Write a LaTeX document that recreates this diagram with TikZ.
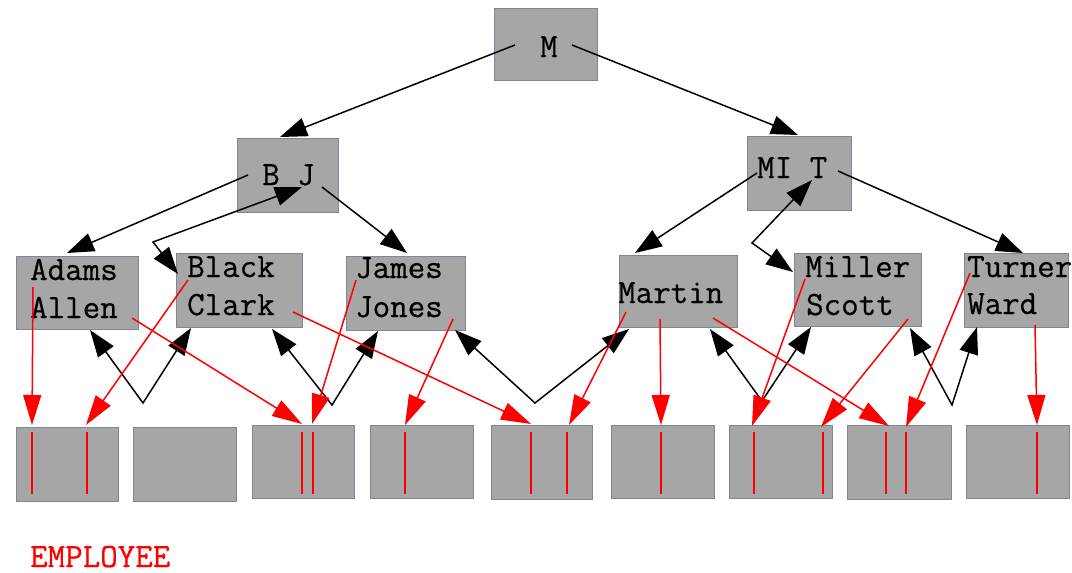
\documentclass[tikz,border=0pt]{standalone}
\usepackage{fontspec}
\newfontfamily\cour[FakeBold=0.6]{Latin Modern Mono}
\usetikzlibrary{arrows.meta}
\definecolor{boxfill}{RGB}{166,166,166}
\definecolor{boxline}{RGB}{125,135,150}
\begin{document}
\begin{tikzpicture}[x=1pt,y=-1pt,
  box/.style={draw=boxline,fill=boxfill,line width=0.8pt,inner sep=0pt,outer sep=0pt},
  lbl/.style={inner sep=0pt,anchor=base west,font=\cour\fontsize{34}{38}\selectfont},
  ptr/.style={draw=black,line width=1.5pt,-{Triangle[length=27pt,width=19pt]}},
  dptr/.style={draw=black,line width=1.5pt,{Triangle[length=27pt,width=19pt]}-{Triangle[length=27pt,width=19pt]}},
  rptr/.style={draw=red,line width=1.5pt,-{Triangle[length=30pt,width=18pt]}},
  rmark/.style={draw=red,line width=1.9pt}]
\useasboundingbox (0,0) rectangle (1072,573);
\newcommand\mkbox[5]{\node[box,minimum width={#4pt-#2pt},minimum height={#5pt-#3pt}] (#1) at ({(#2+#4)/2},{(#3+#5)/2}) {};}
% internal boxes
\mkbox{M}{494}{8}{597}{80}
\mkbox{BJ}{237}{138}{338}{212}
\mkbox{MIT}{747}{136}{851}{210}
\mkbox{Adams}{16}{256}{138}{329}
\mkbox{Black}{176}{253}{302}{327}
\mkbox{James}{346}{256}{465}{330}
\mkbox{Martin}{619}{255}{737}{327}
\mkbox{Miller}{794}{253}{921}{326}
\mkbox{Turner}{964}{253}{1068}{327}
% leaf boxes
\mkbox{L1}{16}{427}{118}{501}
\mkbox{L2}{133}{427}{236}{501}
\mkbox{L3}{252}{425}{354}{498}
\mkbox{L4}{370}{425}{473}{498}
\mkbox{L5}{491}{425}{592}{499}
\mkbox{L6}{611}{425}{714}{498}
\mkbox{L7}{729}{425}{832}{498}
\mkbox{L8}{847}{425}{951}{499}
\mkbox{L9}{966}{425}{1069}{498}
% texts
\node[lbl] (tM) at (540,57) {M};
\node[lbl] (tBJ) at (262,185) {B J};
\node[lbl] (tMIT) at (757,178) {MI T};
\node[lbl] (tAdams) at (30,280) {Adams};
\node[lbl] (tAllen) at (30,318) {Allen};
\node[lbl] (tBlack) at (187,277) {Black};
\node[lbl] (tClark) at (187,315) {Clark};
\node[lbl] (tJames) at (355,278) {James};
\node[lbl] (tJones) at (355,317) {Jones};
\node[lbl] (tMartin) at (618,303) {Martin};
\node[lbl] (tMiller) at (805,277) {Miller};
\node[lbl] (tScott) at (806,315) {Scott};
\node[lbl] (tTurner) at (967,277) {Turner};
\node[lbl] (tWard) at (967,314) {Ward};
\node[lbl,text=red] (tEmp) at (30,567) {EMPLOYEE};
% red record marks in leaves
\foreach \x/\n in {32/1,87/2,302/3,313/4,405/5,531/6,567/7,661/8,754/9,823/10,886/11,906/12,1037/13}{
  \coordinate (rt\n) at (\x,432); \coordinate (rb\n) at (\x,494);
  \draw[rmark] (rt\n) -- (rb\n);
}
% black tree pointers
\coordinate (mL) at (515,45); \coordinate (mLe) at (280,137);
\coordinate (mR) at (572,45); \coordinate (mRe) at (798,135);
\draw[ptr] (mL) -- (mLe);
\draw[ptr] (mR) -- (mRe);
\coordinate (bjA) at (248,175); \coordinate (bjAe) at (67,253);
\draw[ptr] (bjA) -- (bjAe);
\coordinate (bjB1) at (178,274); \coordinate (bjBc) at (153,242); \coordinate (bjB2) at (302,187);
\draw[dptr] (bjB1) -- (bjBc) -- (bjB2);
\coordinate (bjC) at (322,187); \coordinate (bjCe) at (407,253);
\draw[ptr] (bjC) -- (bjCe);
\coordinate (mtA) at (757,173); \coordinate (mtAe) at (635,253);
\draw[ptr] (mtA) -- (mtAe);
\coordinate (mtB1) at (793,272); \coordinate (mtBc) at (752,243); \coordinate (mtB2) at (812,180);
\draw[dptr] (mtB1) -- (mtBc) -- (mtB2);
\coordinate (mtC) at (838,171); \coordinate (mtCe) at (1023,253);
\draw[ptr] (mtC) -- (mtCe);
% sibling links
\foreach \i/\ax/\ay/\bx/\by/\cx/\cy in {1/90/330/143/403/191/328, 2/272/329/332/405/378/331, 3/455/330/535/403/629/329, 4/710/329/762/401/811/327, 5/910/328/952/405/977/327}{
  \coordinate (va\i) at (\ax,\ay); \coordinate (vb\i) at (\bx,\by); \coordinate (vc\i) at (\cx,\cy);
  \draw[dptr] (va\i) -- (vb\i) -- (vc\i);
}
% red data pointers
\foreach \i/\sx/\sy/\ex/\ey in {1/33/287/32/425, 2/132/318/302/424, 3/188/280/86/425, 4/293/312/531/424, 5/356/280/312/424, 6/453/319/405/425, 7/626/312/569/425, 8/660/319/661/425, 9/713/318/889/426, 10/805/279/752/426, 11/908/319/821/427, 12/970/273/906/427, 13/1035/325/1037/425}{
  \coordinate (ds\i) at (\sx,\sy); \coordinate (de\i) at (\ex,\ey);
  \draw[rptr] (ds\i) -- (de\i);
}
\end{tikzpicture}
\end{document}
